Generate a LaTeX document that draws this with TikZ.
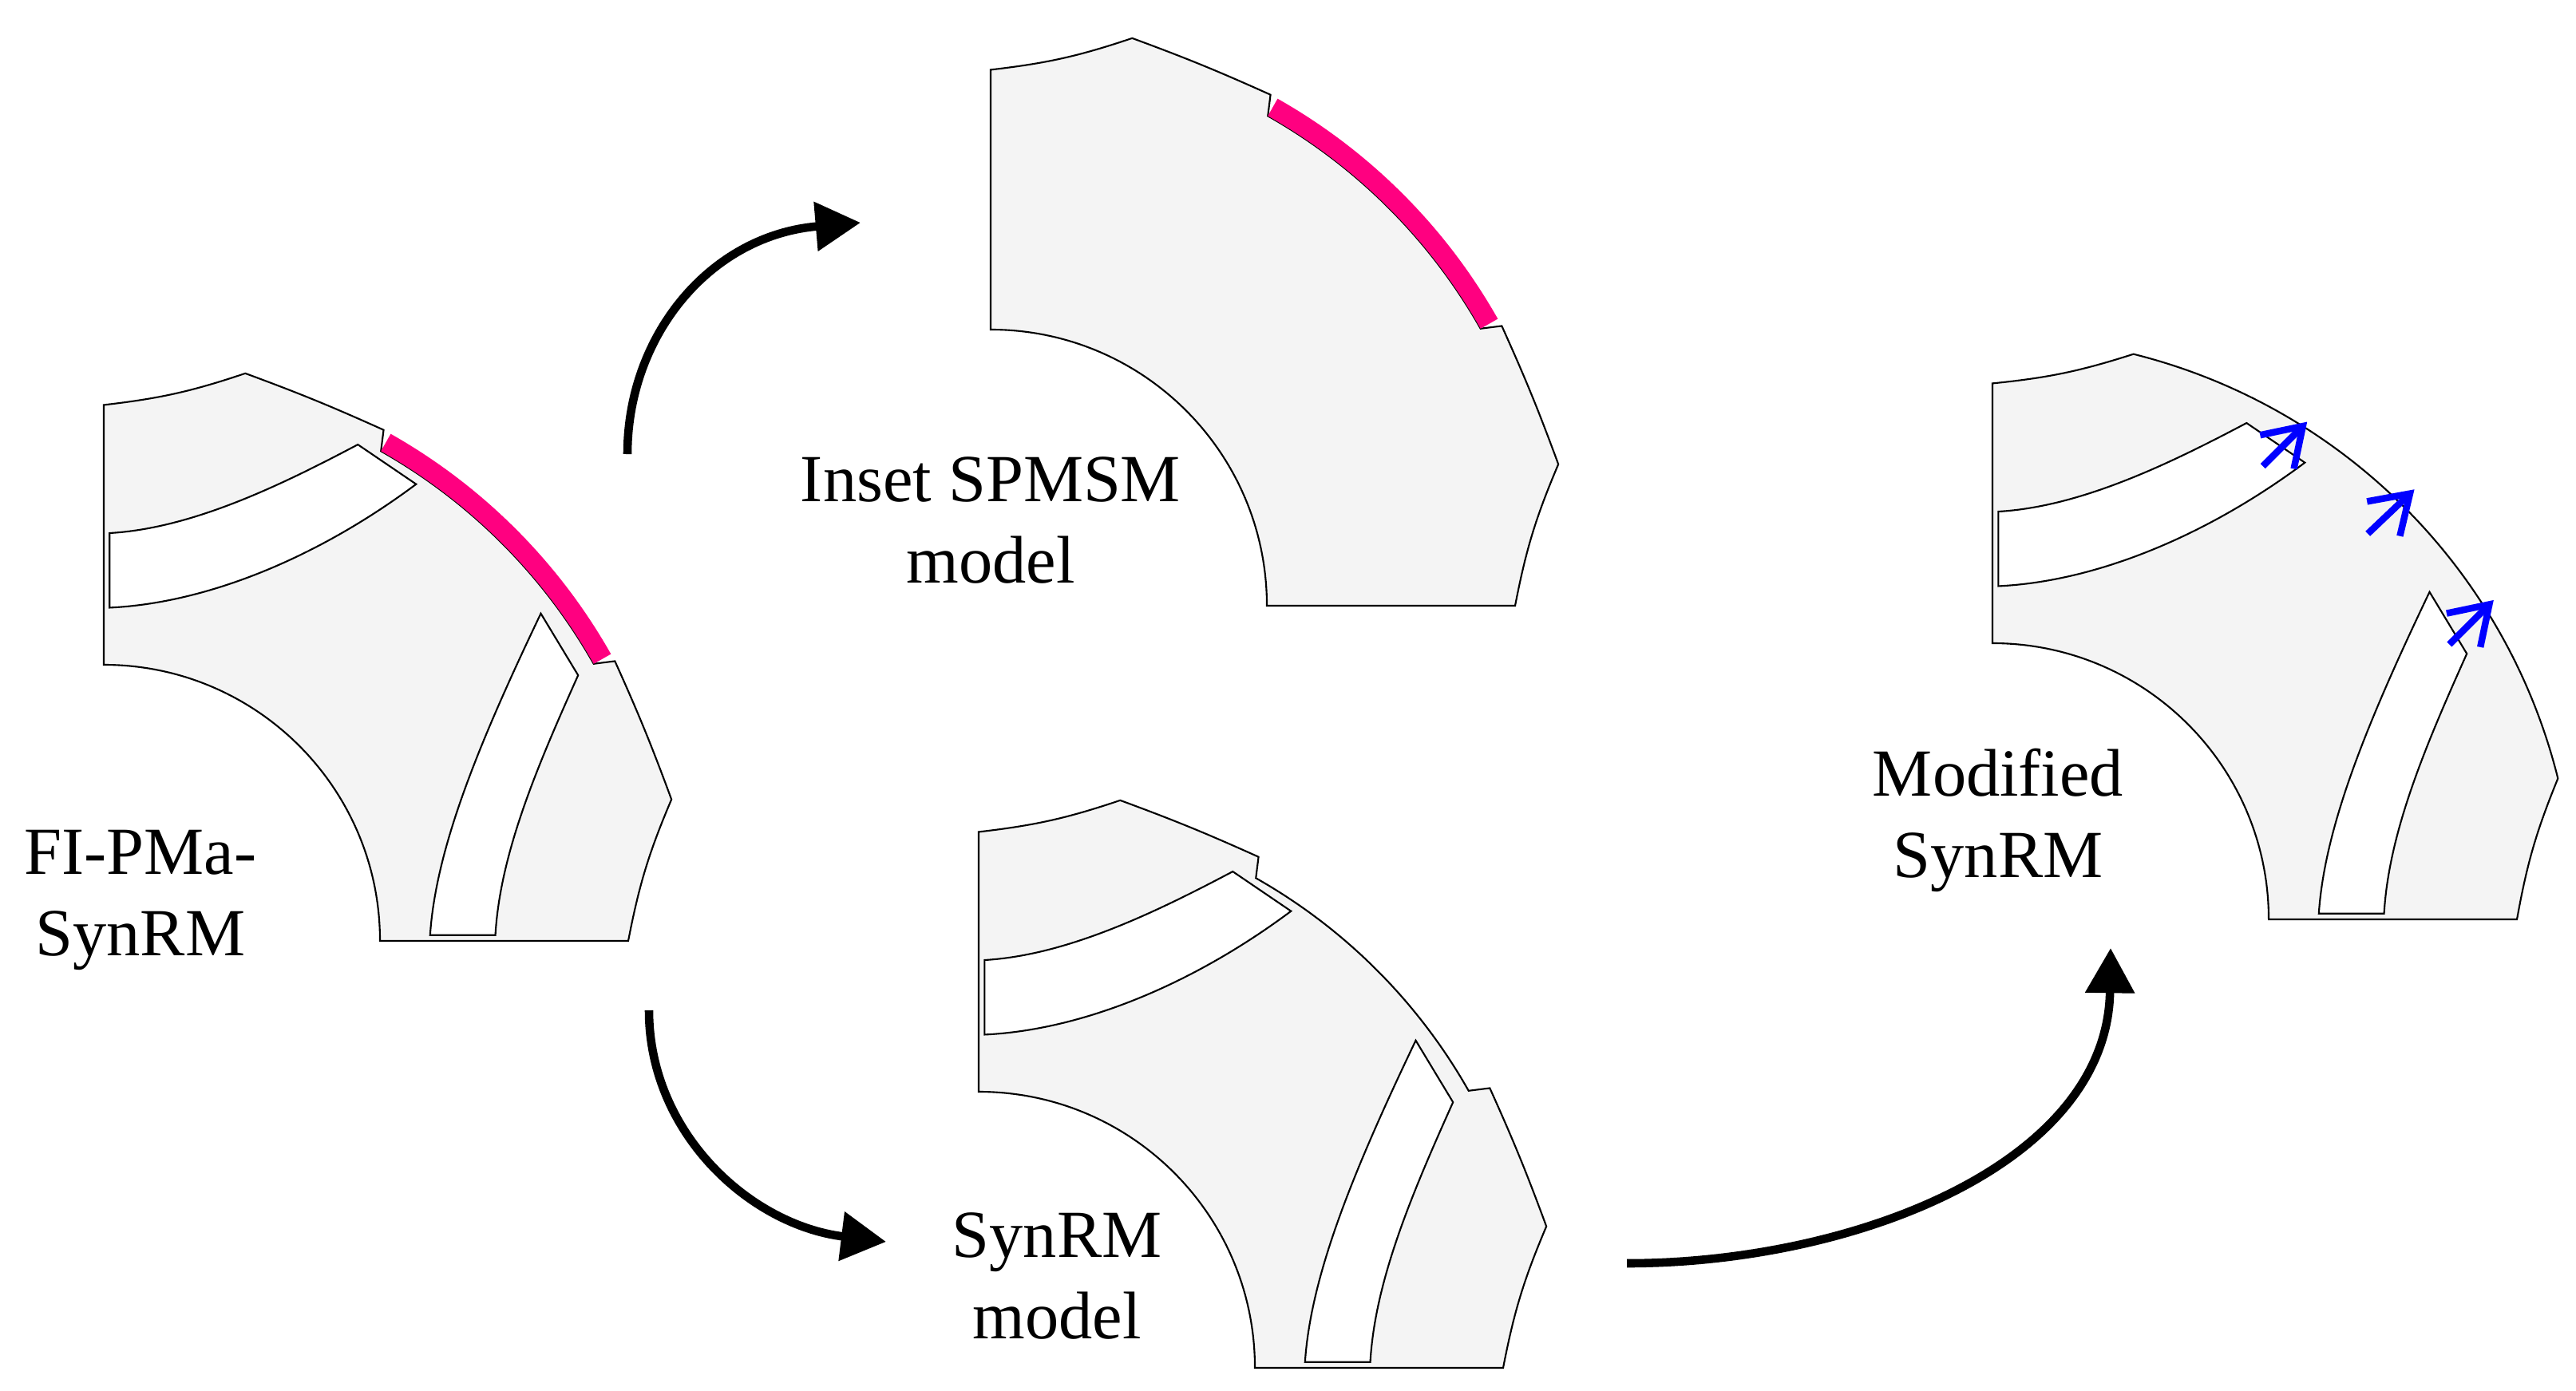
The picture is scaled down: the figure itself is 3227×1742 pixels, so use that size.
\documentclass[tikz,border=0pt]{standalone}
\usepackage{fontspec}
\setmainfont{Liberation Serif}
\usetikzlibrary{arrows.meta}
\definecolor{iron}{HTML}{F4F4F4}
\definecolor{mag}{HTML}{FF0080}
\newcommand\RotNotched{%
  \path[outl] (0,237) -- (0,460) to[bend right=6] (76:502) to[bend left=2] (61.3:500)
    -- (60.5:483) arc[start angle=60.5,end angle=29.5,radius=483] -- (28.7:500)
    to[bend left=2] (14:502) to[bend right=6] (450,0) -- (237,0)
    arc[start angle=0,end angle=90,radius=237] -- cycle;}
\newcommand\RotSmooth{%
  \path[outl] (0,237) -- (0,460) to[bend right=6] (76:500)
    arc[start angle=76,end angle=14,radius=500] to[bend right=6] (450,0) -- (237,0)
    arc[start angle=0,end angle=90,radius=237] -- cycle;}
\newcommand\RotBarriers{%
  \path[barr] (5,350) -- (5,286) .. controls (90,290) and (185,330) .. (268,392)
    -- (218,426) .. controls (150,390) and (75,354) .. (5,350) -- cycle;
  \path[barr] (280,5) -- (336,5) .. controls (340,75) and (372,150) .. (407,228)
    -- (375,281) .. controls (322,170) and (285,80) .. (280,5) -- cycle;}
\newcommand\RotMagnet{%
  \path[magnet] (60.5:483) arc[start angle=60.5,end angle=29.5,radius=483]
    -- (29.5:500) arc[start angle=29.5,end angle=60.5,radius=500] -- cycle;}
\begin{document}
\begin{tikzpicture}[x=0.01cm,y=-0.01cm,
  outl/.style={draw=black,line width=0.6pt,fill=iron,line join=miter},
  barr/.style={draw=black,line width=0.6pt,fill=white},
  magnet/.style={fill=mag,draw=none},
  big/.style={line width=3pt,-{Triangle[length=16pt,width=17pt]}},
  blu/.style={draw=blue,line width=2.4pt,-{Straight Barb[length=13pt,width=17pt]}},
  lbl/.style={align=center,font=\fontsize{24}{29}\selectfont},
  rot/.style={y=0.01cm,scale=1.46}]
\useasboundingbox (0,0) rectangle (3227,1742);
% FI-PMa-SynRM
\begin{scope}[shift={(130,1179)},rot]
  \RotNotched \RotBarriers \RotMagnet
\end{scope}
% Inset SPMSM
\begin{scope}[shift={(1241,759)},rot]
  \RotNotched \RotMagnet
\end{scope}
% SynRM
\begin{scope}[shift={(1226,1714)},rot]
  \RotNotched \RotBarriers
\end{scope}
% Modified SynRM
\begin{scope}[shift={(2496,1152)},rot]
  \RotSmooth \RotBarriers
  \coordinate (b1s) at (232,389); \coordinate (b1e) at (270,427);
  \coordinate (b2s) at (322,331); \coordinate (b2e) at (362,369);
  \coordinate (b3s) at (392,236); \coordinate (b3e) at (430,274);
\end{scope}
% blue arrows
\draw[blu] (b1s) -- (b1e);
\draw[blu] (b2s) -- (b2e);
\draw[blu] (b3s) -- (b3e);
% labels
\node[lbl] (fi) at (176,1128) {FI-PMa-\\SynRM};
\node[lbl] (sp) at (1241,652) {Inset SPMSM\\model};
\node[lbl] (sy) at (1324,1599) {SynRM\\model};
\node[lbl] (mo) at (2503,1028) {Modified\\SynRM};
% big arrows
\coordinate (a1s) at (786,569); \coordinate (a1e) at (1078,279);
\coordinate (a2s) at (813,1266); \coordinate (a2e) at (1110,1556);
\coordinate (a3s) at (2038,1583); \coordinate (a3e) at (2644,1188);
\draw[big] (a1s) .. controls (786,420) and (890,295) .. (a1e);
\draw[big] (a2s) .. controls (813,1420) and (940,1535) .. (a2e);
\draw[big] (a3s) .. controls (2320,1583) and (2640,1460) .. (a3e);
\end{tikzpicture}
\end{document}
